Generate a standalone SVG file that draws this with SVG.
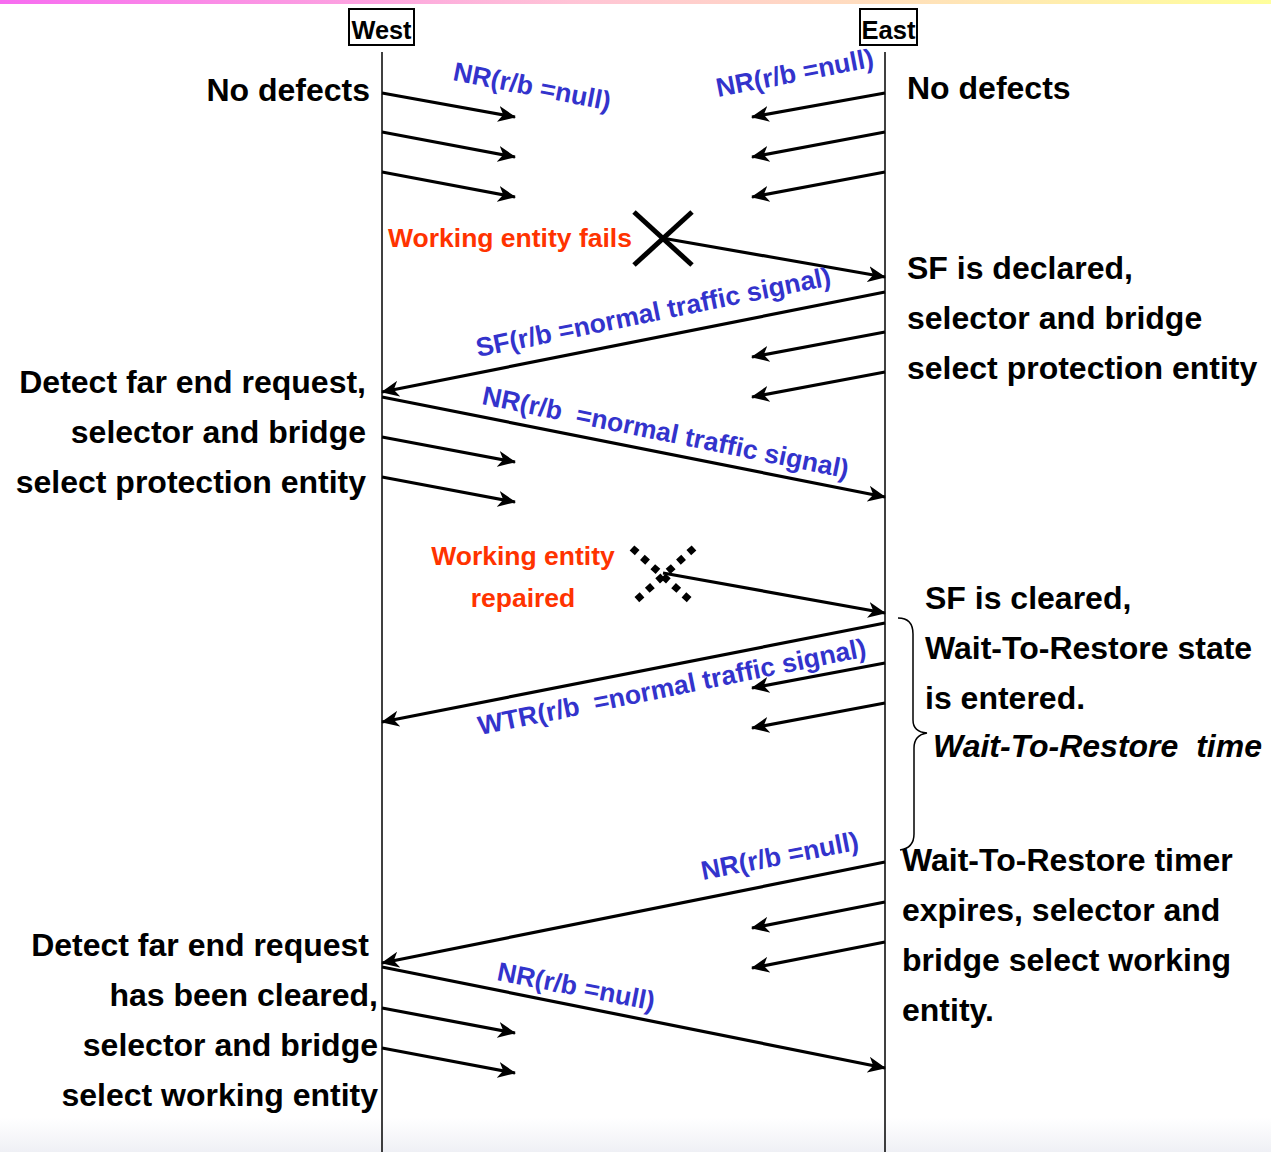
<svg xmlns="http://www.w3.org/2000/svg" width="1271" height="1152" viewBox="0 0 1271 1152">
  <defs>
    <linearGradient id="topBar" x1="0" y1="0" x2="1" y2="0">
      <stop offset="0" stop-color="#f76cf0"/>
      <stop offset="0.45" stop-color="#ffc4d6"/>
      <stop offset="1" stop-color="#ffff9c"/>
    </linearGradient>
    <linearGradient id="bottomHaze" x1="0" y1="0" x2="0" y2="1">
      <stop offset="0" stop-color="#ffffff"/>
      <stop offset="1" stop-color="#eff0f5"/>
    </linearGradient>
    <marker id="head" markerUnits="userSpaceOnUse" markerWidth="20" markerHeight="16" refX="17" refY="8" orient="auto">
      <path d="M0,0 L18,8 L0,16 L5,8 Z" fill="#000"/>
    </marker>
    <style>
      .life { stroke: #000; stroke-width: 1.5; fill: none; }
      .msg { stroke: #000; stroke-width: 3.2; fill: none; marker-end: url(#head); }
      .box { fill: #fff; stroke: #000; stroke-width: 2; }
      .hdr { font-family: "Liberation Sans", Arial, sans-serif; font-weight: bold; font-size: 25px; fill: #000; }
      .note { font-family: "Liberation Sans", Arial, sans-serif; font-weight: bold; font-size: 32px; fill: #000; white-space: pre; }
      .ital { font-style: italic; }
      .lbl { font-family: "Liberation Sans", Arial, sans-serif; font-weight: bold; font-size: 26.5px; fill: #3333cc; white-space: pre; }
      .evt { font-family: "Liberation Sans", Arial, sans-serif; font-weight: bold; font-size: 26.5px; fill: #ff3300; }
    </style>
  </defs>

  <rect x="0" y="0" width="1271" height="1152" fill="#fff"/>
  <rect x="0" y="0" width="1271" height="4" fill="url(#topBar)"/>
  <rect x="0" y="1118" width="1271" height="34" fill="url(#bottomHaze)"/>

  <!-- lifelines -->
  <g id="west">
    <line class="life" x1="382" y1="52" x2="382" y2="1152"/>
    <rect class="box" x="349" y="9" width="65" height="36"/>
    <text class="hdr" x="381.5" y="39" text-anchor="middle" textLength="60" lengthAdjust="spacingAndGlyphs">West</text>
  </g>
  <g id="east">
    <line class="life" x1="885" y1="52" x2="885" y2="1152"/>
    <rect class="box" x="860" y="9" width="57" height="36"/>
    <text class="hdr" x="888.5" y="39" text-anchor="middle" textLength="54" lengthAdjust="spacingAndGlyphs">East</text>
  </g>

  <!-- failure / repair marks -->
  <g id="fail-mark">
    <line x1="634" y1="212" x2="692" y2="265" stroke="#000" stroke-width="5"/>
    <line x1="692" y1="212" x2="634" y2="265" stroke="#000" stroke-width="5"/>
  </g>
  <g id="repair-mark">
    <line x1="632" y1="548" x2="694" y2="604" stroke="#000" stroke-width="7" stroke-dasharray="7 7"/>
    <line x1="694" y1="548" x2="632" y2="604" stroke="#000" stroke-width="7" stroke-dasharray="7 7"/>
  </g>

  <!-- message connectors -->
  <g id="connectors">
    <line class="msg" x1="382" y1="93" x2="515" y2="117"/>
    <line class="msg" x1="382" y1="132" x2="515" y2="157"/>
    <line class="msg" x1="382" y1="172" x2="515" y2="197"/>
    <line class="msg" x1="885" y1="93" x2="752" y2="117"/>
    <line class="msg" x1="885" y1="132" x2="752" y2="157"/>
    <line class="msg" x1="885" y1="172" x2="752" y2="197"/>

    <line class="msg" x1="662" y1="238" x2="885" y2="277"/>
    <line class="msg" x1="885" y1="292" x2="382" y2="392"/>
    <line class="msg" x1="885" y1="332" x2="752" y2="357"/>
    <line class="msg" x1="885" y1="372" x2="752" y2="397"/>
    <line class="msg" x1="382" y1="397" x2="885" y2="497"/>
    <line class="msg" x1="382" y1="437" x2="515" y2="462"/>
    <line class="msg" x1="382" y1="477" x2="515" y2="502"/>

    <line class="msg" x1="663" y1="573" x2="885" y2="613"/>
    <line class="msg" x1="885" y1="623" x2="382" y2="722"/>
    <line class="msg" x1="885" y1="663" x2="752" y2="688"/>
    <line class="msg" x1="885" y1="703" x2="752" y2="728"/>

    <line class="msg" x1="885" y1="862" x2="382" y2="963"/>
    <line class="msg" x1="885" y1="902" x2="752" y2="928"/>
    <line class="msg" x1="885" y1="942" x2="752" y2="968"/>
    <line class="msg" x1="382" y1="967" x2="885" y2="1068"/>
    <line class="msg" x1="382" y1="1008" x2="515" y2="1033"/>
    <line class="msg" x1="382" y1="1048" x2="515" y2="1073"/>
  </g>

  <!-- message labels -->
  <g id="msg-labels">
    <text class="lbl" transform="translate(452,80) rotate(11)">NR(r/b =null)</text>
    <text class="lbl" transform="translate(718,97) rotate(-11)">NR(r/b =null)</text>
    <text class="lbl" transform="translate(478,357) rotate(-11.5)">SF(r/b =normal traffic signal)</text>
    <text class="lbl" xml:space="preserve" transform="translate(481,404) rotate(11.5)">NR(r/b  =normal traffic signal)</text>
    <text class="lbl" xml:space="preserve" transform="translate(480,735) rotate(-11.5)">WTR(r/b  =normal traffic signal)</text>
    <text class="lbl" transform="translate(703,880) rotate(-11)">NR(r/b =null)</text>
    <text class="lbl" transform="translate(496,980) rotate(11)">NR(r/b =null)</text>
  </g>

  <!-- events -->
  <g id="events">
    <text class="evt" x="388" y="247">Working entity fails</text>
    <text class="evt" x="523" y="565" text-anchor="middle">Working entity</text>
    <text class="evt" x="523" y="607" text-anchor="middle">repaired</text>
  </g>

  <!-- west side notes -->
  <g id="west-notes">
    <text class="note" x="370" y="101" text-anchor="end">No defects</text>
    <text class="note" x="366" y="393" text-anchor="end">Detect far end request,</text>
    <text class="note" x="366" y="443" text-anchor="end">selector and bridge</text>
    <text class="note" x="366" y="493" text-anchor="end">select protection entity</text>
    <text class="note" x="369" y="956" text-anchor="end">Detect far end request</text>
    <text class="note" x="378" y="1006" text-anchor="end">has been cleared,</text>
    <text class="note" x="378" y="1056" text-anchor="end">selector and bridge</text>
    <text class="note" x="378" y="1106" text-anchor="end">select working entity</text>
  </g>

  <!-- east side notes -->
  <g id="east-notes">
    <text class="note" x="907" y="99">No defects</text>
    <text class="note" x="907" y="279">SF is declared,</text>
    <text class="note" x="907" y="329">selector and bridge</text>
    <text class="note" x="907" y="379">select protection entity</text>
    <text class="note" x="925" y="609">SF is cleared,</text>
    <text class="note" x="925" y="659">Wait-To-Restore state</text>
    <text class="note" x="925" y="709">is entered.</text>
    <text class="note ital" x="933" y="757" xml:space="preserve">Wait-To-Restore  time</text>
    <text class="note" x="902" y="871">Wait-To-Restore timer</text>
    <text class="note" x="902" y="921">expires, selector and</text>
    <text class="note" x="902" y="971">bridge select working</text>
    <text class="note" x="902" y="1021">entity.</text>
  </g>

  <!-- wait-to-restore brace -->
  <g id="wtr-brace">
    <path d="M898,618 Q913,618 913,634 L913,720 Q913,732 927,733 Q914,735 914,748 L914,834 Q914,848 900,850" fill="none" stroke="#000" stroke-width="1.5"/>
  </g>
</svg>
